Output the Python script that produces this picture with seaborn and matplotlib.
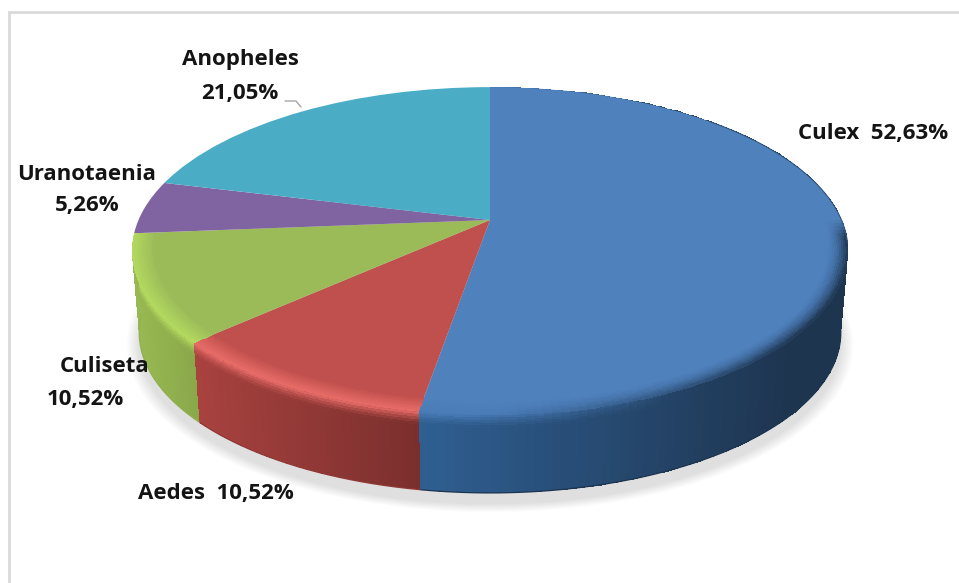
import numpy as np
import matplotlib
matplotlib.use("Agg")
import matplotlib.pyplot as plt
from matplotlib.transforms import Transform
from matplotlib.patches import Circle
from matplotlib.colors import to_rgb
import seaborn as sns

genera = ["Culex", "Aedes", "Culiseta", "Uranotaenia", "Anopheles"]
shares = [52.63, 10.52, 10.52, 5.26, 21.05]
face_colors = ["#4f81bd", "#c0504d", "#9bbb59", "#8064a2", "#4bacc6"]
rim_colors = ["#4a7cb8", "#e86c68", "#b4d95f", "#8064a2", "#4bacc6"]
side_start = ["#2f5f92", "#a8423f", "#98b952", "#6c5488", "#3d8ea5"]
side_end = ["#1e3550", "#7a2f2d", "#8aa84a", "#6c5488", "#3d8ea5"]

W, H = 959, 583
CX = 490
K, A, B = 0.189, 158.0, 351.5
TOP_Y, BOT_Y, BOT_S = 220.0, 302.0, 0.98


class Disc(Transform):
    input_dims = output_dims = 2
    has_inverse = False
    is_separable = False

    def __init__(self, y0, scale=1.0):
        super().__init__()
        self.y0, self.scale = y0, scale

    def transform_non_affine(self, pts):
        pts = np.asarray(pts, float)
        w = 1 + K * pts[:, 1]
        return np.column_stack([CX + self.scale * B * pts[:, 0] / w,
                                self.y0 - self.scale * A * pts[:, 1] / w])


top_disc = Disc(TOP_Y)
bottom_disc = Disc(BOT_Y, BOT_S)

sns.set_theme(style="white")
plt.rcParams["font.family"] = ["Open Sans", "DejaVu Sans"]
fig = plt.figure(figsize=(W / 100, H / 100), dpi=100)
ax = fig.add_axes([0, 0, 1, 1])

# soft shadow
for i in range(16):
    f = i / 15
    ax.add_patch(Circle((0, 0), 1.035 - 0.035 * f, color="#8f8a85", alpha=0.014, lw=0,
                        transform=Disc(BOT_Y + 11, BOT_S) + ax.transData, zorder=1))

edges = 90 - 3.6 * np.cumsum([0] + shares)
palette = sns.color_palette(face_colors)

# wall of the pie: only the three front slices show a wall
for i in [0, 1, 2]:
    th = np.radians(np.linspace(edges[i], edges[i + 1], 161))
    unit = np.column_stack([np.cos(th), np.sin(th)])
    pts_top = top_disc.transform_non_affine(unit)
    pts_bot = bottom_disc.transform_non_affine(unit)
    t = np.linspace(0, 1, 31)[:, None]
    X = pts_top[:, 0][None] * (1 - t) + pts_bot[:, 0][None] * t
    Y = pts_top[:, 1][None] * (1 - t) + pts_bot[:, 1][None] * t
    a, b = np.array(to_rgb(side_start[i])), np.array(to_rgb(side_end[i]))
    x_mid = 0.5 * (X[0, 1:] + X[0, :-1])
    lo, hi = (pts_top[-1, 0], 790) if i == 0 else (X[0].min(), X[0].max())
    s = np.clip((x_mid - lo) / (hi - lo), 0, 1)
    base = a[None] * (1 - s[:, None]) + b[None] * s[:, None]
    C = np.repeat(base[None], 30, axis=0)
    # highlight just below the top edge, fading out towards the dark right side
    rim = np.array(to_rgb(rim_colors[i]))
    tm = 0.5 * (t[1:] + t[:-1])
    mix = np.clip(1 - tm / 0.16, 0, 1) ** 1.3
    mix = mix * (np.clip((680 - x_mid) / 220, 0, 1) if i == 0 else np.ones_like(x_mid))
    C = C * (1 - mix[:, :, None]) + rim[None, None] * mix[:, :, None]
    ax.pcolormesh(X, Y, C, shading="flat", antialiased=False, linewidth=0, zorder=2)
    keep = np.sin(th) < 0.1
    ax.plot(pts_bot[keep, 0], pts_bot[keep, 1], color=side_end[i] if i == 0 else tuple(0.5 * (a + b)),
            lw=0.9, zorder=2.5, solid_capstyle="butt")

# top face
wedges, _ = ax.pie(shares, colors=palette, startangle=90, counterclock=False,
                   wedgeprops=dict(linewidth=0))
for w in wedges:
    w.set_transform(top_disc + ax.transData)
    w.set_zorder(3)

# bevel at the edge of the top face, on the front slices only
for i in [0, 1, 2]:
    angle = np.linspace(edges[i], edges[i + 1], 161)
    th = np.radians(angle[np.sin(np.radians(angle)) < 0.02])
    r = np.linspace(0.94, 1.0, 11)[:, None]
    c, s_ = np.cos(th)[None], np.sin(th)[None]
    P = top_disc.transform_non_affine(np.column_stack([(r * c).ravel(), (r * s_).ravel()]))
    X = P[:, 0].reshape(11, -1)
    Y = P[:, 1].reshape(11, -1)
    face = np.array(to_rgb(face_colors[i]))
    rim = np.array(to_rgb(rim_colors[i]))
    mix = ((r[1:] + r[:-1]) / 2 - 0.94) / 0.06
    thm = 0.5 * (th[1:] + th[:-1])
    front = np.clip(-np.sin(thm) / 0.25, 0, 1)[None, :, None]
    if i == 2:
        front = np.clip((-np.sin(thm) + 0.05) / 0.1, 0, 1)[None, :, None]
    C = face[None, None] * (1 - mix[:, :, None] * front) + rim[None, None] * mix[:, :, None] * front
    if i == 0:
        dark = np.array(to_rgb(side_end[0]))
        right = np.clip(np.cos(thm) * 1.3, 0, 1)[None, :, None]
        m = (mix[:, :, None] ** 2) * right * np.clip(-np.sin(thm) / 0.1, 0, 1)[None, :, None]
        C = C * (1 - m) + dark[None, None] * m
    ax.pcolormesh(X, Y, C, shading="flat", antialiased=False, linewidth=0, zorder=4)
    # thin dark edge on the far right of the top face
    if i == 0:
        back = np.radians(np.linspace(45, -8, 60))
        E = top_disc.transform_non_affine(np.column_stack([np.cos(back), np.sin(back)]))
        ax.plot(E[:, 0], E[:, 1], color="#35597f", lw=0.8, zorder=4.5)

ax.set_aspect("auto")
ax.set_xlim(0, W)
ax.set_ylim(H, 0)
ax.axis("off")

# chart frame
ax.plot([9, 9, W], [H, 12, 12], color="#d9d9d9", lw=2, zorder=1, solid_joinstyle="miter")

# labels
label_style = dict(fontsize=16, fontweight="bold", color="#141414", ha="center", va="center", zorder=6)
pct = [f"{v:.2f}%".replace(".", ",") for v in shares]
ax.text(240, 60, genera[4], **label_style)
ax.text(240, 93, pct[4], **label_style)
ax.text(873, 134, f"{genera[0]}  {pct[0]}", **label_style)
ax.text(87, 174, genera[3], **label_style)
ax.text(87, 206, pct[3], **label_style)
ax.text(105, 367, genera[2], **label_style)
ax.text(85, 400, pct[2], **label_style)
ax.text(216, 494, f"{genera[1]}  {pct[1]}", **label_style)
ax.plot([285, 296, 301], [101, 101, 107], color="#a6a6a6", lw=1, zorder=6)

fig.savefig("out.png", dpi=100, facecolor="white")
